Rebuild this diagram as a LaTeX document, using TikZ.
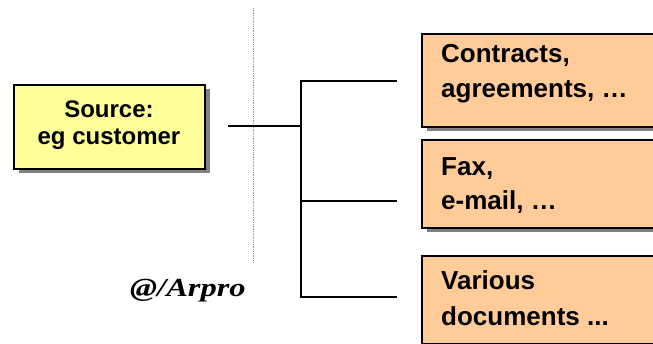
\documentclass[tikz,border=0pt]{standalone}
\usepackage{fontspec}
\setmainfont{Liberation Sans}
\newfontfamily\serifbi{Liberation Serif}
\usetikzlibrary{shadows}
\definecolor{srcfill}{RGB}{255,255,153}
\definecolor{boxfill}{RGB}{255,204,153}
\definecolor{shadowgray}{RGB}{128,128,128}
\definecolor{sepgray}{RGB}{150,150,150}
\begin{document}
\begin{tikzpicture}[x=1pt,y=-1pt,
  box/.style={draw=black, line width=2pt, inner sep=0pt, anchor=north west,
    drop shadow={shadow xshift=5pt, shadow yshift=-4pt, fill=shadowgray, opacity=1}},
  srcbox/.style={box, fill=srcfill, minimum width=191pt, minimum height=84pt},
  docbox/.style={box, fill=boxfill, minimum width=260pt, minimum height=93pt},
  srctext/.style={anchor=base, font=\fontsize{24}{28}\selectfont\bfseries},
  doctext/.style={anchor=base west, inner sep=0pt, font=\fontsize{26}{32}\selectfont\bfseries},
  wire/.style={draw=black, line width=2pt},
  sepline/.style={draw=sepgray, line width=0.8pt, densely dotted}]
\useasboundingbox (0,0) rectangle (653,344);
\clip (0,0) rectangle (653,344);

% separator
\coordinate (sepTop) at (253,8);
\coordinate (sepBot) at (253,262);
\draw[sepline] (sepTop) -- (sepBot);

% source
\node[srcbox] (src) at (13,84) {};
\node[srctext] (srcA) at (109,118) {Source:};
\node[srctext] (srcB) at (109,145) {eg customer};

% document boxes
\node[docbox] (d1) at (421,33) {};
\node[docbox, minimum height=88pt] (d2) at (421,139) {};
\node[docbox, minimum height=88pt] (d3) at (421,255) {};
\node[doctext] (d1a) at (441,63) {Contracts,};
\node[doctext] (d1b) at (441,98) {agreements, …};
\node[doctext] (d2a) at (441,176) {Fax,};
\node[doctext] (d2b) at (441,210) {e-mail, …};
\node[doctext] (d3a) at (441,290) {Various};
\node[doctext] (d3b) at (441,326) {documents ...};

% connectors
\coordinate (srcOut) at (228,126);
\coordinate (j) at (301,126);
\coordinate (jTop) at (301,80);
\coordinate (jBot) at (301,298);
\coordinate (b1) at (301,81);
\coordinate (b2) at (301,201);
\coordinate (b3) at (301,297);
\coordinate (e1) at (397,81);
\coordinate (e2) at (397,201);
\coordinate (e3) at (397,297);
\draw[wire] (srcOut) -- (j);
\draw[wire] (jTop) -- (jBot);
\draw[wire] (b1) -- (e1);
\draw[wire] (b2) -- (e2);
\draw[wire] (b3) -- (e3);

% credit
\node[anchor=base west, inner sep=0pt, font=\serifbi\fontsize{26}{30}\selectfont\bfseries\itshape] (credit) at (130,297) {\scalebox{1.25}[1]{@/Arpro}};
\end{tikzpicture}
\end{document}
